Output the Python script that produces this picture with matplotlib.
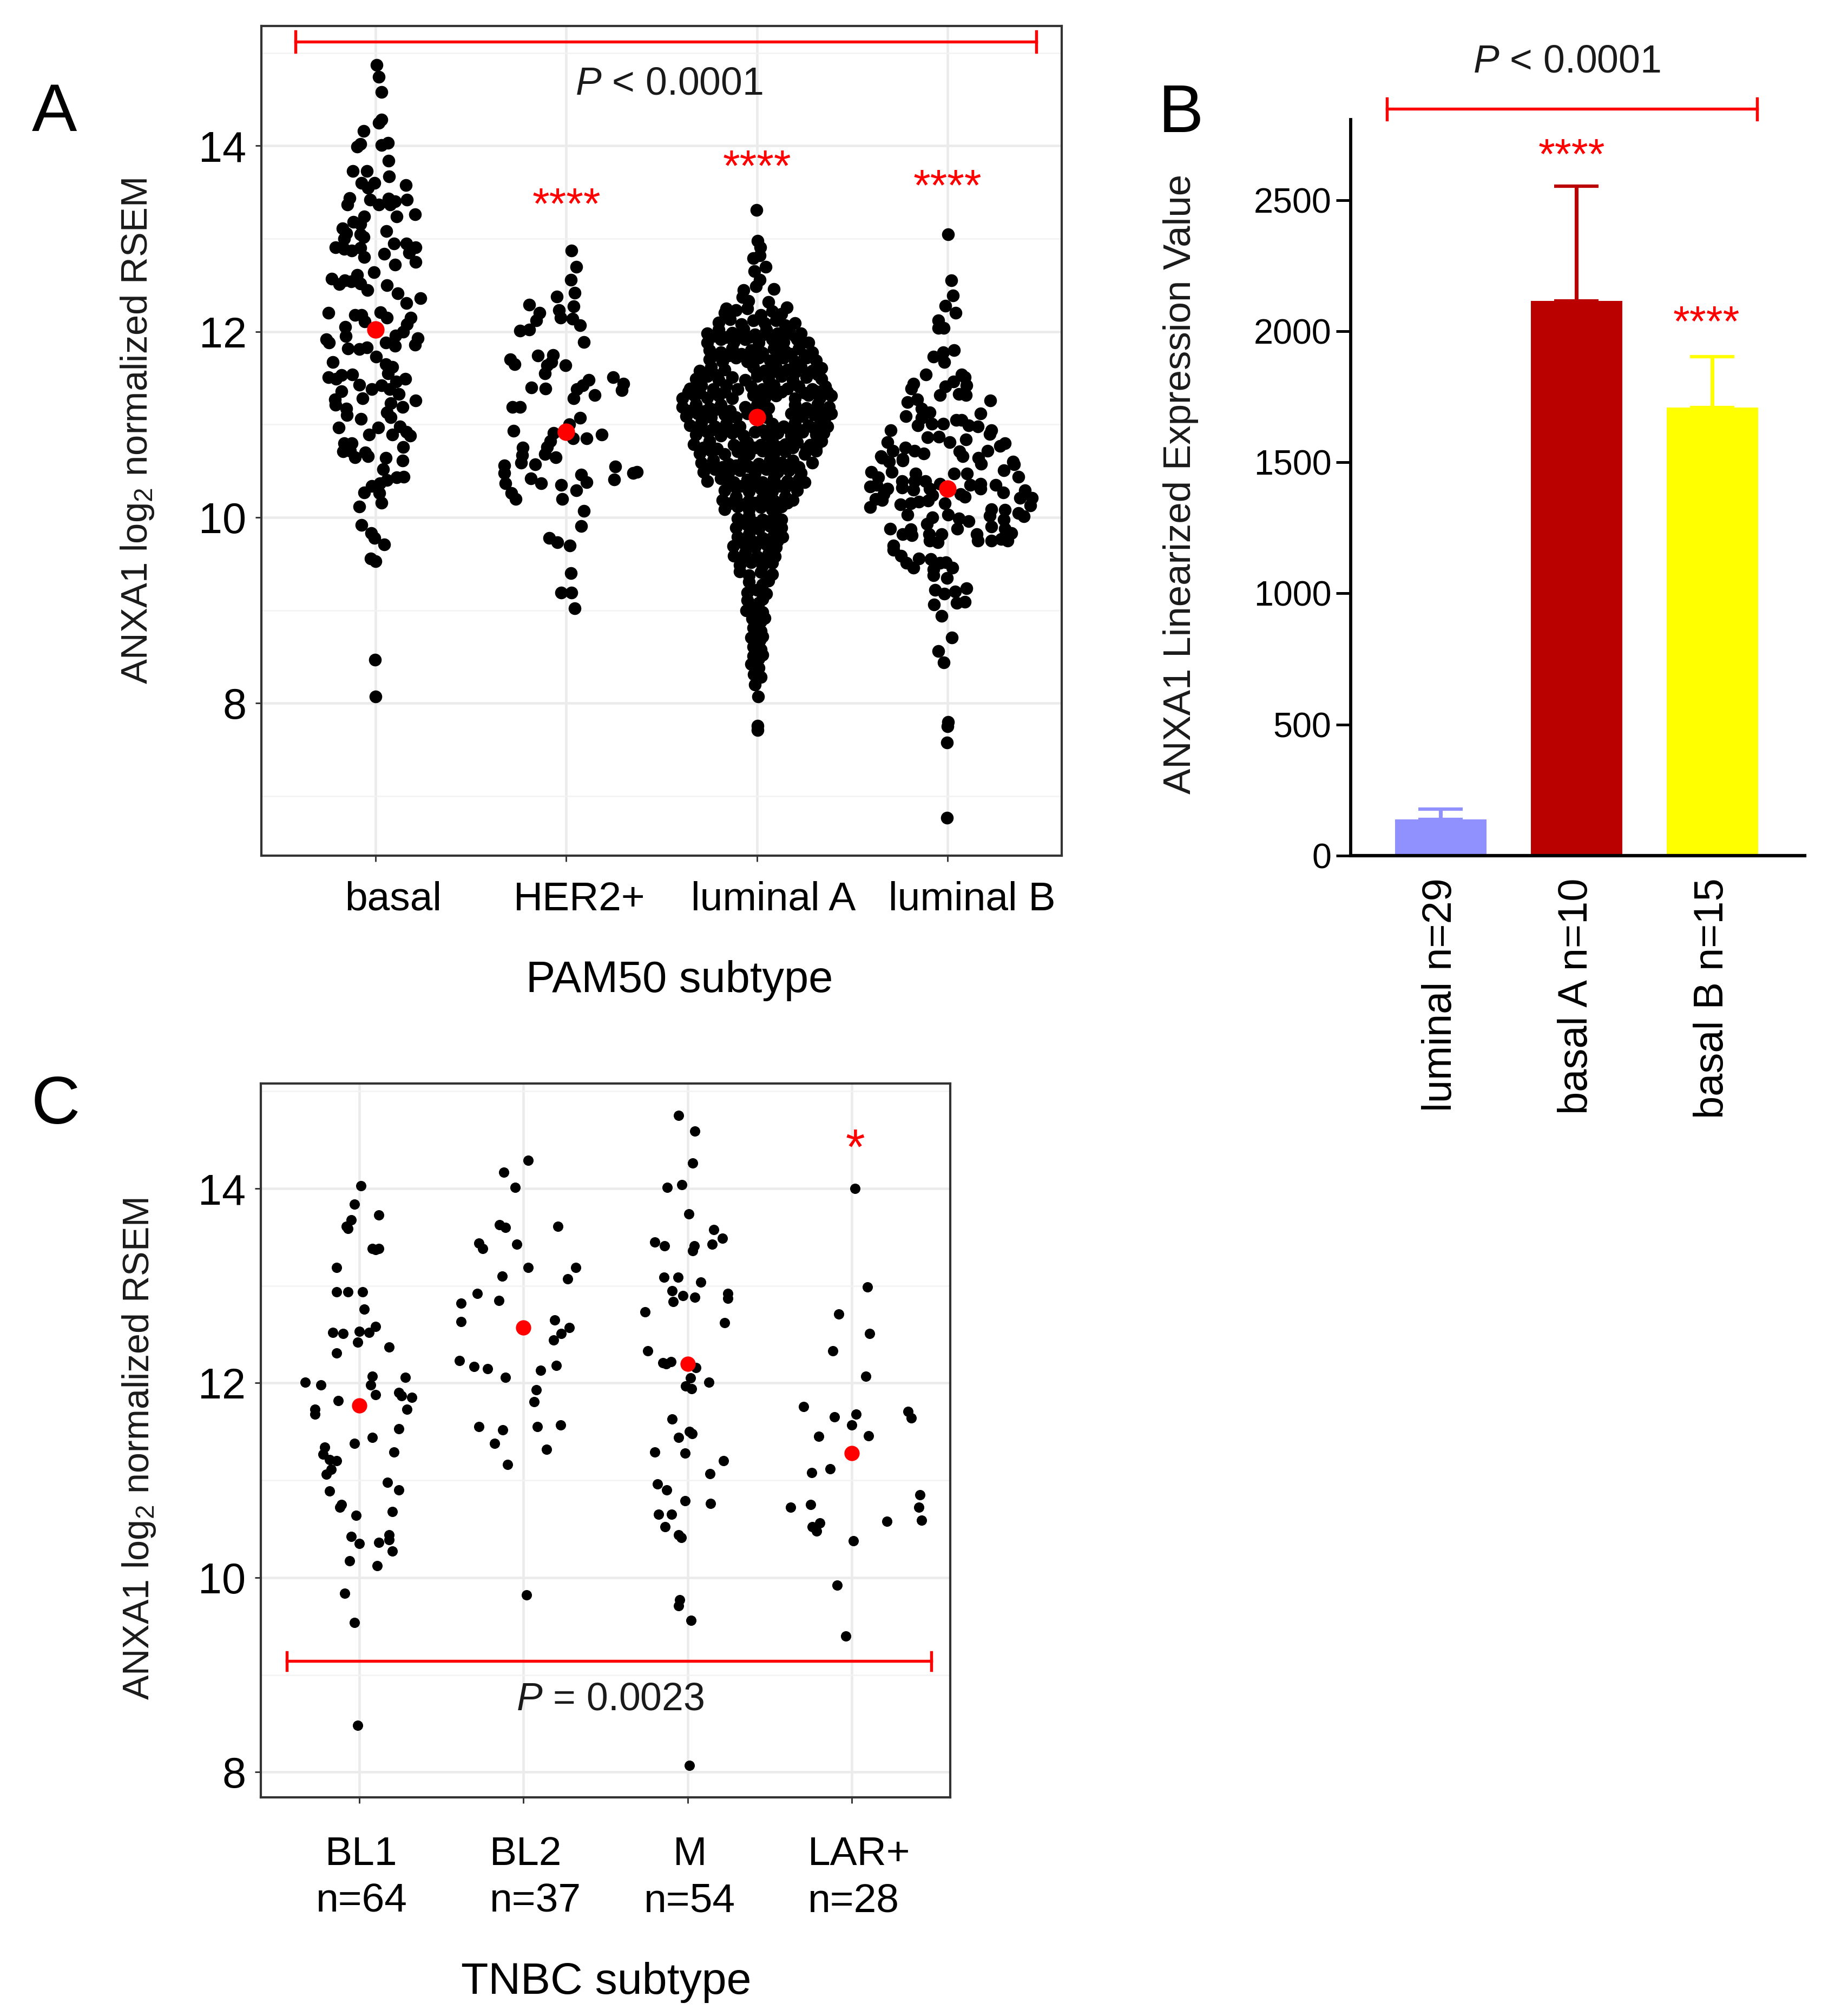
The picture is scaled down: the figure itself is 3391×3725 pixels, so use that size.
import matplotlib
matplotlib.use("Agg")
import matplotlib.pyplot as plt
from matplotlib.transforms import ScaledTranslation

W, H = 3391, 3725
DPI = 300

plt.rcParams['font.family'] = ['Liberation Sans', 'DejaVu Sans']
plt.rcParams['mathtext.fontset'] = 'custom'
plt.rcParams['mathtext.rm'] = 'Liberation Sans'
plt.rcParams['mathtext.it'] = 'Liberation Sans:italic'
plt.rcParams['mathtext.default'] = 'regular'

# panel A, points are (offset from category centre, log2 value)
a_labels = ["basal", "HER2+", "luminal A", "luminal B"]
a_means = [12.02, 10.92, 11.08, 10.31]
a_stars = [None, 13.34, 13.75, 13.54]

basal = [(.006,14.87),(.017,14.74),(.03,14.58),(.03,14.28),(.015,14.25),(-.064,14.16),(.064,14.03),(.03,14.01),
 (-.08,14.02),(-.096,13.99),(.067,13.84),(-.12,13.73),(-.046,13.73),(.07,13.67),(.157,13.58),(-.075,13.60),
 (-.006,13.60),(-.04,13.55),(-.136,13.44),(-.03,13.42),(.165,13.42),(-.148,13.37),(.067,13.43),(.015,13.37),
 (.10,13.40),(.075,13.37),(.206,13.26),(.11,13.24),(-.06,13.24),(-.116,13.18),(-.08,13.16),(-.174,13.11),
 (-.154,13.06),(.055,13.08),(-.08,13.05),(-.165,13.0),(-.064,13.02),(-.21,12.91),(-.165,12.89),(-.125,12.87),
 (-.08,12.90),(-.06,12.80),(.046,12.84),(.096,12.95),(.16,12.95),(.21,12.91),(.174,12.85),(.21,12.75),
 (.10,12.72),(-.01,12.64),(-.098,12.61),(-.23,12.57),(-.162,12.55),(-.19,12.51),(-.128,12.54),(-.08,12.52),
 (-.043,12.45),(.06,12.50),(.116,12.41),(.162,12.31),(.235,12.36),(-.247,12.20),(-.11,12.18),(-.075,12.18),
 (.026,12.21),(.058,12.15),(.183,12.15),(-.16,12.05),(-.058,12.11),(.165,12.08),(.145,12.0),(.104,11.96),
 (-.258,11.92),(.22,11.93),(-.157,11.95),(-.244,11.88),(.052,11.88),(.10,11.85),(.206,11.86),(-.145,11.82),
 (-.087,11.81),(-.046,11.83),(.003,11.73),(-.226,11.67),(.052,11.65),(.087,11.62),(.064,11.55),(-.247,11.51),
 (-.18,11.53),(-.122,11.54),(-.209,11.49),(.154,11.49),(.107,11.46),(-.087,11.43),(.03,11.42),(-.02,11.38),
 (-.18,11.36),(.072,11.38),(.122,11.33),(-.07,11.28),(-.215,11.27),(.209,11.26),(.08,11.23),(-.212,11.21),
 (-.154,11.17),(.142,11.19),(.058,11.13),(-.151,11.10),(.08,11.08),(-.078,11.06),(-.194,10.97),(.012,10.97),
 (.128,10.98),(.16,10.92),(-.035,10.89),(.087,10.89),(.18,10.88),(-.165,10.80),(-.125,10.80),(.145,10.76),
 (-.17,10.71),(-.055,10.70),(-.133,10.72),(-.11,10.65),(-.04,10.66),(.052,10.64),(.14,10.61),(.04,10.52),
 (.148,10.44),(.11,10.43),(.058,10.40),(.023,10.37),(-.02,10.34),(-.06,10.27),(.02,10.26),(.03,10.16),
 (-.087,10.12),(-.075,9.92),(-.023,9.83),(-.006,9.78),(.046,9.71),(-.026,9.56),(0,9.53),(-.003,8.47),(0,8.07)]

her2 = [(.026,12.87),(.052,12.70),(.023,12.56),(.044,12.42),(-.049,12.38),(-.194,12.29),(.038,12.27),(-.038,12.23),
 (-.029,12.15),(-.139,12.20),(-.157,12.12),(.032,12.14),(.073,12.07),(-.244,12.01),(-.194,12.02),(.093,11.89),
 (-.148,11.74),(-.07,11.75),(-.293,11.70),(-.27,11.65),(-.078,11.67),(-.003,11.64),(-.1,11.64),(-.113,11.55),
 (.247,11.51),(.299,11.44),(.119,11.48),(.087,11.42),(-.183,11.40),(-.11,11.39),(.055,11.38),(.29,11.37),
 (.148,11.32),(.038,11.28),(-.281,11.19),(-.244,11.19),(.073,11.07),(.015,11.0),(-.278,10.93),(-.067,10.91),
 (.186,10.89),(.107,10.85),(.035,10.85),(-.084,10.82),(-.1,10.76),(-.229,10.75),(-.113,10.68),(-.232,10.67),
 (-.055,10.65),(-.238,10.59),(-.325,10.56),(-.162,10.57),(.258,10.55),(-.325,10.48),(.35,10.48),(.37,10.49),
 (.078,10.46),(-.186,10.42),(.252,10.41),(-.133,10.37),(-.319,10.37),(.107,10.38),(-.026,10.35),(-.287,10.26),
 (.052,10.29),(-.264,10.20),(-.02,10.20),(.093,10.07),(.078,9.91),(-.09,9.78),(-.046,9.73),(.02,9.70),
 (.023,9.40),(-.026,9.19),(.026,9.19),(.044,9.02)]

lum_a = [(-.003,13.31),(.003,12.98),(.019,12.91),(-.019,12.79),(.014,12.82),(.047,12.70),(-.014,12.65),(.014,12.56),
 (-.071,12.45),(-.005,12.49),(-.076,12.37),(.09,12.46),(.062,12.32),(-.161,12.25),(.156,12.26),(-.043,12.33),
 (-.17,12.20),(-.11,12.23),(-.05,12.25),(.02,12.18),(.08,12.22),(.13,12.19),
 (-.2,12.10),(-.14,12.13),(-.08,12.08),(-.02,12.12),(.04,12.09),(.10,12.12),(.15,12.07),(.2,12.09),
 (-.26,11.98),(-.2,12.02),(-.13,11.99),(-.07,12.03),(-.01,11.97),(.05,12.02),(.11,11.98),(.17,12.01),(.23,11.98),
 (-.26,11.88),(-.19,11.92),(-.12,11.89),(-.06,11.92),(.01,11.88),(.08,11.92),(.14,11.89),(.21,11.92),(.27,11.88),
 (-.25,11.80),(-.19,11.78),(-.13,11.82),(-.03,11.80),(.03,11.77),(.09,11.82),(.15,11.79),(.22,11.82),(.29,11.78),
 (-.25,11.70),(-.18,11.68),(-.11,11.72),(-.05,11.68),(.01,11.72),(.07,11.69),(.14,11.72),(.2,11.68),(.26,11.72),(.31,11.69),
 (-.3,11.58),(-.24,11.62),(-.17,11.59),(-.02,11.62),(.04,11.58),(.1,11.62),(.16,11.59),(.23,11.62),(.29,11.58),(.34,11.61),
 (-.32,11.49),(-.26,11.52),(-.2,11.48),(-.13,11.51),(-.06,11.48),(0,11.52),(.06,11.49),(.13,11.52),(.19,11.48),(.26,11.51),(.34,11.49),
 (-.35,11.39),(-.29,11.42),(-.23,11.38),(-.16,11.42),(-.1,11.38),(-.03,11.41),(.03,11.38),(.09,11.42),(.16,11.39),(.22,11.41),(.29,11.38),(.36,11.41),
 (-.39,11.28),(-.33,11.32),(-.26,11.29),(-.2,11.31),(-.13,11.28),(-.02,11.32),(.04,11.28),(.1,11.31),(.2,11.28),(.27,11.32),(.33,11.29),(.39,11.31),
 (-.39,11.19),(-.32,11.22),(-.25,11.18),(-.19,11.21),(-.06,11.19),(0,11.21),(.06,11.18),(.2,11.21),(.26,11.18),(.32,11.22),(.38,11.19),
 (-.37,11.09),(-.31,11.12),(-.24,11.08),(-.17,11.11),(-.11,11.08),(-.05,11.12),(.05,11.08),(.18,11.12),(.24,11.09),(.3,11.11),(.36,11.08),(.39,11.12),
 (-.35,10.99),(-.29,11.02),(-.22,10.98),(-.16,11.01),(-.09,10.98),(.08,11.01),(.14,10.98),(.2,11.02),(.27,10.99),(.33,11.01),(.37,10.98),
 (-.32,10.89),(-.26,10.92),(-.19,10.88),(-.13,10.91),(-.07,10.88),(-.01,10.92),(.05,10.89),(.11,10.91),(.18,10.88),(.24,10.92),(.31,10.89),(.35,10.91),
 (-.33,10.79),(-.25,10.82),(-.12,10.78),(-.05,10.81),(.02,10.78),(.08,10.82),(.15,10.79),(.21,10.81),(.28,10.78),(.34,10.82),
 (-.3,10.69),(-.24,10.72),(-.17,10.68),(-.1,10.71),(-.04,10.68),(.03,10.72),(.09,10.69),(.15,10.71),(.25,10.68),(.31,10.72),
 (-.29,10.59),(-.23,10.62),(-.15,10.58),(-.07,10.61),(.01,10.58),(.07,10.62),(.13,10.59),(.19,10.61),(.29,10.59),
 (-.28,10.49),(-.22,10.52),(-.15,10.48),(-.09,10.51),(-.01,10.48),(.05,10.52),(.11,10.49),(.17,10.51),(.23,10.48),
 (-.26,10.39),(-.19,10.42),(-.12,10.38),(-.05,10.41),(.03,10.38),(.09,10.42),(.16,10.39),(.22,10.41),(.25,10.38),
 (-.17,10.29),(-.11,10.32),(-.04,10.28),(.02,10.31),(.08,10.28),(.15,10.32),(.21,10.29),
 (-.18,10.19),(-.11,10.22),(-.04,10.18),(.03,10.21),(.09,10.18),(.15,10.22),(.19,10.19),
 (-.17,10.09),(-.1,10.12),(-.04,10.08),(.02,10.11),(.08,10.08),(.13,10.12),
 (-.1,9.99),(-.04,10.02),(.03,9.98),(.1,10.01),(.13,9.98),
 (-.11,9.89),(-.05,9.92),(.01,9.88),(.07,9.91),(.13,9.89),
 (-.1,9.79),(-.04,9.82),(.03,9.78),(.09,9.81),(.135,9.79),
 (-.125,9.69),(-.07,9.72),(-.01,9.68),(.05,9.71),(.1,9.68),
 (-.12,9.59),(-.06,9.62),(0,9.58),(.06,9.61),(.095,9.58),
 (-.09,9.49),(-.03,9.52),(.03,9.48),(.08,9.51),
 (-.09,9.42),(-.04,9.38),(.02,9.41),(.08,9.39),
 (-.04,9.31),(.03,9.28),(.06,9.32),(-.05,9.19),(0,9.22),(.05,9.18),
 (-.05,9.11),(.01,9.08),(.03,9.12),(-.055,9.0),(-.01,9.03),(.03,8.98),
 (-.025,8.91),(.02,8.88),(.04,8.92),(-.02,8.81),(.02,8.78),
 (-.03,8.71),(.015,8.68),(.03,8.72),(-.02,8.61),(.02,8.58),
 (-.02,8.51),(.01,8.48),(.03,8.52),(-.03,8.42),(.01,8.38),
 (-.015,8.31),(.02,8.28),(-.01,8.2),(.008,8.07),(.003,7.76),(.003,7.71),
 (-.23,11.95),(-.16,11.94),(-.1,11.96),(-.04,11.94),(.02,11.95),(.08,11.96),(.14,11.94),(.2,11.95),
 (-.22,11.75),(-.15,11.74),(-.08,11.76),(.0,11.75),(.11,11.74),(.18,11.76),(.25,11.75),
 (-.28,11.55),(-.22,11.54),(.0,11.56),(.07,11.55),(.13,11.54),(.2,11.56),(.27,11.55),(.32,11.54),
 (-.36,11.35),(-.3,11.34),(-.23,11.36),(-.17,11.35),(.0,11.34),(.06,11.36),(.13,11.35),(.25,11.34),(.31,11.36),(.37,11.35),
 (-.35,11.15),(-.28,11.14),(-.22,11.16),(-.14,11.15),(-.03,11.14),(.03,11.16),(.23,11.15),(.29,11.14),(.35,11.16),
 (-.3,10.95),(-.24,10.94),(-.17,10.96),(-.11,10.95),(.03,10.94),(.1,10.96),(.17,10.95),(.23,10.94),(.3,10.96),
 (-.28,10.75),(-.21,10.74),(-.08,10.76),(-.01,10.75),(.06,10.74),(.12,10.76),(.19,10.75),(.26,10.74),(.31,10.76),
 (-.25,10.55),(-.18,10.54),(-.11,10.56),(-.04,10.55),(.03,10.54),(.1,10.56),(.16,10.55),(.22,10.54),
 (-.14,10.35),(-.08,10.34),(-.01,10.36),(.06,10.35),(.12,10.34),(.19,10.36),
 (-.14,10.15),(-.07,10.14),(-.01,10.16),(.05,10.15),(.11,10.14),(.16,10.16),
 (-.07,9.95),(-.01,9.94),(.06,9.96),(.12,9.95),(-.09,9.75),(-.02,9.74),(.06,9.76),(.11,9.75),
 (-.06,9.55),(.01,9.54),(.05,9.56)]

lum_b = [(.003,13.05),(.02,12.55),(.03,12.39),(-.011,12.28),(.043,12.20),(-.048,12.12),(-.047,12.04),(-.019,12.04),
 (-.073,11.73),(-.023,11.78),(.034,11.80),(-.015,11.67),(-.113,11.54),(-.177,11.44),(-.19,11.39),(.074,11.54),
 (.091,11.51),(.10,11.42),(.031,11.46),(-.011,11.41),(-.04,11.32),(.06,11.33),(.098,11.32),(.226,11.26),
 (-.158,11.27),(-.21,11.24),(-.218,11.09),(-.135,11.17),(-.092,11.13),(-.135,11.07),(.173,11.12),(-.154,10.99),
 (-.082,11.01),(-.021,11.01),(.046,11.05),(.074,11.05),(.112,10.99),(.159,10.98),(.23,10.94),(.221,10.90),
 (-.296,10.94),(-.315,10.81),(-.286,10.72),(-.103,10.86),(-.045,10.87),(.012,10.81),(.098,10.84),(.301,10.80),
 (.277,10.77),(.211,10.72),(-.22,10.75),(-.173,10.72),(-.125,10.69),(.063,10.71),(.079,10.66),(.164,10.64),
 (-.234,10.63),(-.348,10.66),(.344,10.60),(-.343,10.64),(-.305,10.60),(-.234,10.61),(.178,10.58),(-.40,10.49),
 (-.362,10.43),(-.291,10.49),(-.405,10.33),(-.372,10.35),(-.315,10.31),(-.334,10.25),(-.376,10.20),(-.405,10.11),
 (-.343,10.19),(-.239,10.39),(-.239,10.32),(-.168,10.47),(-.173,10.39),(-.177,10.30),(-.116,10.39),(-.092,10.31),
 (-.04,10.36),(-.078,10.24),(-.101,10.18),(-.149,10.17),(-.191,10.15),(-.246,10.14),(-.21,10.03),(-.078,10.0),
 (-.106,9.93),(-.30,9.88),(-.234,9.82),(-.191,9.87),(-.187,9.81),(-.092,9.75),(-.097,9.82),(-.03,9.82),
 (-.049,9.73),(-.282,9.70),(-.282,9.65),(-.244,9.59),(-.215,9.51),(-.177,9.46),(-.149,9.56),(-.087,9.55),
 (-.04,9.51),(-.007,9.52),(.027,9.46),(-.073,9.44),(-.073,9.38),(-.002,9.35),(-.064,9.22),(-.016,9.18),
 (.041,9.20),(.10,9.24),(.05,9.08),(.091,9.09),(-.071,9.06),(-.03,8.94),(.024,8.71),(-.047,8.56),(-.019,8.44),
 (-.013,10.15),(.005,10.03),(.06,9.99),(.112,9.96),(.052,9.88),(.155,9.82),(.159,9.75),(.23,9.75),(.282,9.77),
 (.316,9.75),(.335,9.83),(.302,10.08),(.297,9.98),(.302,9.88),(.23,10.09),(.221,10.02),(.23,9.90),(.401,10.01),
 (.373,10.05),(.382,10.21),(.406,10.29),(.444,10.21),(.434,10.13),(.036,10.47),(.104,10.47),(.121,10.35),
 (.173,10.36),(.173,10.31),(.093,10.22),(.069,10.25),(.254,10.35),(.292,10.27),(.297,10.51),(.349,10.57),(.373,10.44),
 (.003,7.80),(.0,7.75),(-.001,7.58),(-.002,6.77)]

# panel B
b_labels = ["luminal n=29", "basal A n=10", "basal B n=15"]
b_values = [138, 2116, 1709]
b_errors = [39, 437, 194]
b_colors = ["#9090ff", "#bb0000", "#ffff00"]

# panel C
c_labels = ["BL1\nn=64", "BL2\nn=37", "M\nn=54", "LAR+\nn=28"]
c_means = [11.77, 12.57, 12.20, 11.28]

bl1 = [(.01,14.03),(-.03,13.84),(.12,13.73),(-.05,13.68),(-.08,13.61),(-.07,13.59),(.08,13.38),(.10,13.37),(.12,13.38),
 (-.14,13.19),(-.14,12.94),(-.07,12.94),(.02,12.94),(.03,12.76),(.10,12.58),(.06,12.52),(0,12.53),(-.16,12.52),
 (-.10,12.51),(-.01,12.42),(.18,12.37),(-.14,12.31),(.08,12.07),(.07,11.98),(.28,12.06),(-.33,12.01),(-.235,11.98),
 (.10,11.88),(.24,11.90),(.256,11.87),(.32,11.85),(-.13,11.82),(-.27,11.73),(-.27,11.68),(.29,11.73),(.24,11.53),
 (.08,11.44),(-.03,11.38),(-.21,11.34),(-.22,11.27),(.21,11.29),(-.18,11.21),(-.14,11.20),(-.17,11.11),(-.20,11.06),
 (.17,10.98),(.24,10.90),(-.18,10.89),(-.11,10.75),(-.12,10.72),(.20,10.68),(-.02,10.64),(-.05,10.42),(0,10.35),
 (.18,10.44),(.18,10.39),(.12,10.36),(.20,10.27),(-.06,10.17),(.11,10.12),(-.09,9.84),(-.03,9.54),(-.01,8.48)]

bl2 = [(.03,14.29),(-.12,14.17),(-.05,14.01),(-.145,13.63),(-.11,13.60),(.21,13.61),(-.04,13.43),(-.27,13.44),(-.25,13.38),
 (.03,13.19),(.32,13.19),(-.13,13.10),(.27,13.07),(-.28,12.92),(-.38,12.82),(-.15,12.85),(-.38,12.63),(.19,12.65),
 (.28,12.57),(.23,12.51),(.185,12.44),(-.39,12.23),(-.30,12.17),(-.22,12.15),(.20,12.18),(.105,12.13),(-.11,12.06),
 (.077,11.93),(.065,11.81),(-.27,11.55),(-.125,11.52),(.085,11.55),(.227,11.57),(-.176,11.38),(.142,11.32),(-.097,11.16),(.02,9.82)]

m_pts = [(-.054,14.75),(.045,14.59),(.031,14.26),(-.034,14.04),(-.125,14.01),(.009,13.74),(.16,13.58),(.213,13.49),(-.2,13.45),
 (-.14,13.41),(.15,13.43),(.04,13.41),(.03,13.36),(-.145,13.09),(-.057,13.09),(.08,13.04),(-.094,12.95),(-.028,12.90),
 (.045,12.88),(.244,12.92),(.244,12.87),(-.088,12.84),(-.259,12.73),(.224,12.62),(-.244,12.33),(-.15,12.21),(-.13,12.20),
 (-.102,12.22),(.05,12.16),(.017,12.05),(.13,12.01),(-.011,11.97),(.023,11.94),(-.094,11.63),(.011,11.50),(.028,11.48),
 (-.054,11.44),(-.2,11.29),(-.014,11.28),(.219,11.20),(.136,11.07),(-.185,10.96),(-.128,10.90),(-.017,10.79),(.14,10.76),
 (-.176,10.65),(-.099,10.65),(-.139,10.52),(-.054,10.44),(-.037,10.41),(-.048,9.77),(-.054,9.71),(.02,9.56),(.011,8.07)]

lar = [(.02,14.00),(.094,12.99),(-.08,12.71),(.108,12.51),(-.114,12.33),(.085,12.07),(-.293,11.76),(.344,11.71),(.364,11.64),
 (-.105,11.65),(.028,11.68),(0,11.57),(-.2,11.45),(.102,11.46),(-.131,11.12),(-.244,11.08),(.415,10.85),(.41,10.72),
 (-.25,10.75),(-.372,10.72),(.426,10.59),(.213,10.58),(-.196,10.56),(-.241,10.52),(-.213,10.48),(.009,10.38),(-.09,9.92),(-.037,9.40)]


def px_axes(l, t, r, b):
    return [l / W, 1 - b / H, (r - l) / W, (b - t) / H]


def px_text(x, y, s, **kw):
    kw.setdefault('ha', 'center')
    kw.setdefault('va', 'center')
    return fig.text(x / W, 1 - y / H, s, **kw)


def swarm_axes(ax, groups, means, dot, mean_dot):
    ax.set_xlim(0.4, 4.6)
    ax.set_xticks(range(1, 5))
    ax.set_xticks([], minor=True)
    ax.set_yticks([8, 10, 12, 14])
    ax.set_yticks([7, 9, 11, 13, 15], minor=True)
    ax.grid(True, which='major', color='#ebebeb', lw=1.1)
    ax.grid(True, which='minor', axis='y', color='#f2f2f2', lw=0.6)
    ax.set_axisbelow(True)
    ax.tick_params(axis='both', which='major', length=2.6, width=0.7, color='#333333', labelsize=19, pad=4)
    ax.tick_params(axis='both', which='minor', length=0)
    for s in ax.spines.values():
        s.set_linewidth(1.0)
        s.set_color('#333333')
    for i, pts in enumerate(groups):
        xs = [i + 1 + p[0] for p in pts]
        ys = [p[1] for p in pts]
        ax.scatter(xs, ys, s=dot, color='black', linewidths=0, zorder=3)
    ax.scatter([1, 2, 3, 4], means, s=mean_dot, color='#ff0000', linewidths=0, zorder=4)


def bracket(ax, x0, x1, y, cap, clip=True):
    ax.plot([x0, x1], [y, y], color='#ff0000', lw=1.3, zorder=5, clip_on=clip)
    ax.plot([x0, x0], [y - cap, y + cap], color='#ff0000', lw=1.3, zorder=5, clip_on=clip)
    ax.plot([x1, x1], [y - cap, y + cap], color='#ff0000', lw=1.3, zorder=5, clip_on=clip)


fig = plt.figure(figsize=(W / DPI, H / DPI), dpi=DPI)

# A
ax_a = fig.add_axes(px_axes(483, 48, 1962, 1581))
swarm_axes(ax_a, [basal, her2, lum_a, lum_b], a_means, 32, 60)
ax_a.set_ylim(6.36, 15.29)
ax_a.set_xticklabels(a_labels, fontsize=18)
for lab, dx in zip(ax_a.get_xticklabels(), [32, 24, 31, 46]):
    lab.set_transform(lab.get_transform() + ScaledTranslation(dx / DPI, -19 / DPI, fig.dpi_scale_trans))
bracket(ax_a, 0.579, 4.467, 15.12, 0.11)
ax_a.text(2.54, 14.66, r"$\mathit{P}$ < 0.0001", fontsize=17.2, ha='center', va='center', color='#1a1a1a')
for i, y in enumerate(a_stars):
    if y is not None:
        ax_a.text(i + 1, y, "****", color='#ff0000', fontsize=19.5, ha='center', va='center')

# B
ax_b = fig.add_axes(px_axes(2496, 221, 3335, 1581))
ax_b.bar(range(3), b_values, width=0.672, color=b_colors, linewidth=0, zorder=2)
for i in range(3):
    ax_b.errorbar(i, b_values[i], yerr=[[0], [b_errors[i]]], color=b_colors[i], capsize=9.9,
                  elinewidth=1.7, capthick=1.5, zorder=1)
ax_b.set_xlim(-0.662, 2.68)
ax_b.set_ylim(0, 2807)
ax_b.set_yticks([0, 500, 1000, 1500, 2000, 2500])
ax_b.set_xticks(range(3))
ax_b.set_xticklabels(b_labels, rotation=90, fontsize=18.2)
for lab in ax_b.get_xticklabels():
    lab.set_transform(lab.get_transform() + ScaledTranslation(5 / DPI, 0, fig.dpi_scale_trans))
ax_b.tick_params(axis='y', length=6.5, width=1.2, labelsize=15.5, pad=2)
ax_b.tick_params(axis='x', length=0, pad=10)
ax_b.spines['top'].set_visible(False)
ax_b.spines['right'].set_visible(False)
ax_b.spines['left'].set_linewidth(1.4)
ax_b.spines['bottom'].set_linewidth(1.5)
bracket(ax_b, -0.397, 2.33, 2848, 40, clip=False)
ax_b.text(0.964, 2661, "****", color='#ff0000', fontsize=19, ha='center', va='center')
ax_b.text(1.957, 2024, "****", color='#ff0000', fontsize=19, ha='center', va='center')

# C
ax_c = fig.add_axes(px_axes(482, 2002, 1756, 3321))
swarm_axes(ax_c, [bl1, bl2, m_pts, lar], c_means, 21, 46)
ax_c.set_ylim(7.74, 15.08)
ax_c.set_xticklabels(c_labels, fontsize=18, linespacing=1.34)
for lab, dx, al in zip(ax_c.get_xticklabels(), [4, 22, 4, 14], ['center', 'left', 'center', 'left']):
    lab.set_multialignment(al)
    lab.set_transform(lab.get_transform() + ScaledTranslation(dx / DPI, -43 / DPI, fig.dpi_scale_trans))
bracket(ax_c, 0.557, 4.483, 9.14, 0.09)
ax_c.text(2.53, 8.74, r"$\mathit{P}$ = 0.0023", fontsize=17.2, ha='center', va='center', color='#1a1a1a')
ax_c.text(4.02, 14.39, "*", color='#ff0000', fontsize=22, ha='center', va='center')

# texts outside the axes
px_text(100, 210, "A", fontsize=30)
px_text(2182, 212, "B", fontsize=30)
px_text(103, 2044, "C", fontsize=30)
px_text(254, 797, "ANXA1 log$_2$ normalized RSEM", fontsize=16.5, rotation=90, color='#1a1a1a')
px_text(257, 2677, "ANXA1 log$_2$ normalized RSEM", fontsize=16.4, rotation=90, color='#1a1a1a')
px_text(2182, 894, "ANXA1 Linearized Expression Value", fontsize=17, rotation=90, color='#1a1a1a')
px_text(1256, 1812, "PAM50 subtype", fontsize=19.5)
px_text(1120, 3663, "TNBC subtype", fontsize=19.8)
px_text(2896, 115, r"$\mathit{P}$ < 0.0001", fontsize=17.2, color='#1a1a1a')

fig.savefig("out.png", dpi=DPI)
